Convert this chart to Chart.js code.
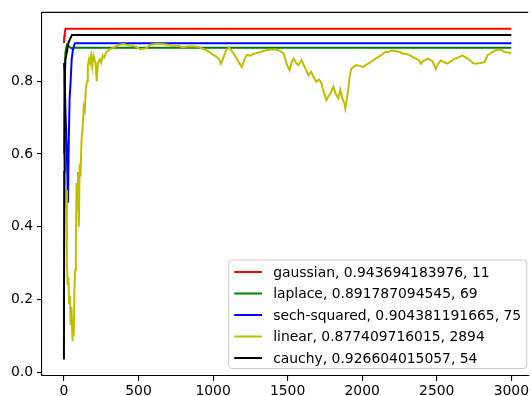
<!DOCTYPE html>
<html><head><meta charset="utf-8">
<script src="https://cdn.jsdelivr.net/npm/chart.js@4.4.0/dist/chart.umd.min.js"></script>
<style>html,body{margin:0;padding:0;background:#fff;overflow:hidden}#wrap{width:531px;height:396px}</style>
</head><body><div id="wrap"><canvas id="c" width="531" height="396"></canvas></div>
<script>
// ---- data ----
const seriesNames = ["gaussian", "laplace", "sech-squared", "linear", "cauchy"];
const bestValues = ["0.943694183976", "0.891787094545", "0.904381191665", "0.877409716015", "0.926604015057"];
const bestIters = [11, 69, 75, 2894, 54];
const seriesColors = ["#ff0000", "#008000", "#0000ff", "#bfbf00", "#000000"];

const xTicks = [0, 500, 1000, 1500, 2000, 2500, 3000];
const yTicks = [0.0, 0.2, 0.4, 0.6, 0.8];

const gaussianIter = [0, 3, 6, 11, 3000];
const gaussianAcc  = [0.905, 0.925, 0.935, 0.9437, 0.9437];

const laplaceIter = [0, 5, 10, 20, 35, 50, 69, 3000];
const laplaceAcc  = [0.60, 0.80, 0.88, 0.90, 0.895, 0.89, 0.8918, 0.8918];

const sechIter = [0, 5, 12, 20, 27, 32, 38, 45, 52, 60, 68, 75, 3000];
const sechAcc  = [0.85, 0.80, 0.70, 0.60, 0.466, 0.62, 0.75, 0.80, 0.86, 0.885, 0.898, 0.9044, 0.9044];

const cauchyIter = [0, 2, 5, 10, 20, 30, 40, 54, 3000];
const cauchyAcc  = [0.035, 0.55, 0.80, 0.86, 0.88, 0.905, 0.915, 0.9266, 0.9266];

const linearIter = [0,5,10,15,20,25,30,35,40,45,50,58,62,66,70,75,80,85,90,95,100,105,112,118,125,133,140,147,155,160,168,175,182,190,198,205,212,220,228,240,250,260,270,285,300,320,345,370,400,440,480,510,550,580,620,660,700,730,760,795,830,860,900,930,955,975,1000,1020,1040,1053,1070,1087,1107,1130,1153,1175,1193,1210,1227,1250,1273,1300,1320,1350,1387,1420,1440,1460,1473,1493,1513,1527,1540,1557,1573,1593,1607,1620,1640,1657,1673,1693,1710,1727,1740,1750,1760,1773,1787,1807,1820,1840,1853,1867,1880,1887,1897,1907,1917,1927,1945,1960,1985,2007,2025,2040,2055,2073,2090,2107,2130,2153,2173,2200,2227,2250,2273,2300,2320,2340,2360,2380,2393,2410,2440,2460,2473,2493,2510,2527,2550,2573,2600,2620,2650,2673,2690,2707,2725,2740,2760,2793,2820,2840,2860,2873,2895,2920,2940,2953,2975,2987,3000];
const linearAcc  = [0.60,0.58,0.45,0.50,0.30,0.24,0.26,0.19,0.21,0.13,0.18,0.085,0.14,0.10,0.22,0.28,0.36,0.52,0.45,0.55,0.40,0.56,0.55,0.64,0.67,0.73,0.72,0.78,0.80,0.84,0.86,0.85,0.87,0.84,0.87,0.86,0.85,0.80,0.85,0.86,0.85,0.87,0.865,0.88,0.885,0.89,0.895,0.900,0.902,0.898,0.895,0.888,0.890,0.900,0.903,0.902,0.900,0.896,0.898,0.893,0.895,0.896,0.894,0.889,0.885,0.880,0.872,0.868,0.860,0.848,0.865,0.885,0.893,0.880,0.866,0.850,0.839,0.860,0.872,0.870,0.875,0.878,0.880,0.884,0.887,0.887,0.885,0.880,0.876,0.848,0.830,0.852,0.862,0.850,0.844,0.858,0.845,0.834,0.816,0.826,0.812,0.798,0.805,0.794,0.771,0.760,0.748,0.758,0.766,0.785,0.767,0.753,0.776,0.753,0.740,0.725,0.750,0.780,0.815,0.834,0.840,0.844,0.842,0.839,0.845,0.848,0.852,0.857,0.862,0.866,0.872,0.880,0.880,0.884,0.882,0.880,0.876,0.874,0.871,0.866,0.862,0.858,0.848,0.856,0.862,0.858,0.853,0.834,0.848,0.857,0.852,0.848,0.856,0.862,0.866,0.871,0.866,0.862,0.857,0.850,0.848,0.850,0.852,0.871,0.876,0.880,0.885,0.887,0.884,0.880,0.879,0.878,0.877];

const seriesIters = [gaussianIter, laplaceIter, sechIter, linearIter, cauchyIter];
const seriesAccs = [gaussianAcc, laplaceAcc, sechAcc, linearAcc, cauchyAcc];

// ---- chart ----
const FONT = '"DejaVu Sans", sans-serif';
const FS = 13.9;

const datasets = seriesNames.map((n, i) => ({
  label: n + ", " + bestValues[i] + ", " + bestIters[i],
  data: seriesIters[i].map((x, k) => ({x: x, y: seriesAccs[i][k]})),
  borderColor: seriesColors[i],
  backgroundColor: seriesColors[i],
  borderWidth: 2,
  pointRadius: 0,
  tension: 0,
  fill: false,
  order: seriesNames.length - i
}));

const framePlugin = {
  id: 'frameTop',
  afterDatasetsDraw(chart) {
    const ctx = chart.ctx, a = chart.chartArea;
    ctx.save();
    ctx.strokeStyle = '#000';
    ctx.lineWidth = 1.1;
    ctx.beginPath();
    ctx.moveTo(a.left, a.top);
    ctx.lineTo(a.right, a.top);
    ctx.stroke();
    ctx.restore();
  }
};

const legendPlugin = {
  id: 'boxLegend',
  afterDraw(chart) {
    const ctx = chart.ctx, a = chart.chartArea;
    const xs = chart.scales.x;
    const ds = chart.data.datasets;
    ctx.save();
    ctx.font = FS + 'px ' + FONT;
    const tw = Math.max(...ds.map(d => ctx.measureText(d.label).width));
    const pad = 0.4 * FS, handle = 2 * FS, tpad = 0.8 * FS;
    const axesRight = xs.getPixelForValue(3150);
    const boxR = axesRight - 0.5 * FS;
    const boxB = a.bottom - 7.5;
    const boxW = pad + handle + tpad + tw + pad;
    const rowH = 21.5;
    const boxH = ds.length * rowH + 1;
    const boxL = boxR - boxW, boxT = boxB - boxH;
    const r = 3;
    ctx.beginPath();
    ctx.moveTo(boxL + r, boxT);
    ctx.lineTo(boxR - r, boxT);
    ctx.arcTo(boxR, boxT, boxR, boxT + r, r);
    ctx.lineTo(boxR, boxB - r);
    ctx.arcTo(boxR, boxB, boxR - r, boxB, r);
    ctx.lineTo(boxL + r, boxB);
    ctx.arcTo(boxL, boxB, boxL, boxB - r, r);
    ctx.lineTo(boxL, boxT + r);
    ctx.arcTo(boxL, boxT, boxL + r, boxT, r);
    ctx.closePath();
    ctx.fillStyle = 'rgba(255,255,255,0.8)';
    ctx.fill();
    ctx.strokeStyle = '#cccccc';
    ctx.lineWidth = 1;
    ctx.stroke();
    ds.forEach((d, i) => {
      const y = boxT + 12 + i * rowH;
      ctx.strokeStyle = d.borderColor;
      ctx.lineWidth = 2;
      ctx.beginPath();
      ctx.moveTo(boxL + pad, y);
      ctx.lineTo(boxL + pad + handle, y);
      ctx.stroke();
      ctx.fillStyle = '#000';
      ctx.textBaseline = 'middle';
      ctx.textAlign = 'left';
      ctx.fillText(d.label, boxL + pad + handle + tpad, y + 1);
    });
    ctx.restore();
  }
};

new Chart(document.getElementById('c'), {
  type: 'line',
  data: { datasets: datasets },
  options: {
    responsive: false,
    animation: false,
    events: [],
    layout: { padding: { top: 10, left: 0, right: 0, bottom: 0 } },
    plugins: { legend: { display: false }, tooltip: { enabled: false } },
    scales: {
      x: {
        type: 'linear',
        min: -147,
        max: 3113,
        afterBuildTicks(s) { s.ticks = xTicks.map(v => ({ value: v })); },
        afterFit(s) { s.height = 20; },
        ticks: { color: '#000', font: { family: FONT, size: FS }, padding: 2, maxRotation: 0, autoSkip: false,
                 callback: v => String(v) },
        grid: { display: true, drawOnChartArea: false, drawTicks: true, tickLength: 5, color: '#000', lineWidth: 1.1 },
        border: { display: true, color: '#000', width: 1.1 }
      },
      y: {
        type: 'linear',
        min: -0.0104,
        max: 0.9891,
        afterBuildTicks(s) { s.ticks = yTicks.map(v => ({ value: v })); },
        afterFit(s) { s.width = 42; },
        ticks: { color: '#000', font: { family: FONT, size: FS }, padding: 4, autoSkip: false,
                 callback: v => Number(v).toFixed(1) },
        grid: { display: true, drawOnChartArea: false, drawTicks: true, tickLength: 5, color: '#000', lineWidth: 1.1 },
        border: { display: true, color: '#000', width: 1.1 }
      }
    }
  },
  plugins: [framePlugin, legendPlugin]
});
</script>
</body></html>
